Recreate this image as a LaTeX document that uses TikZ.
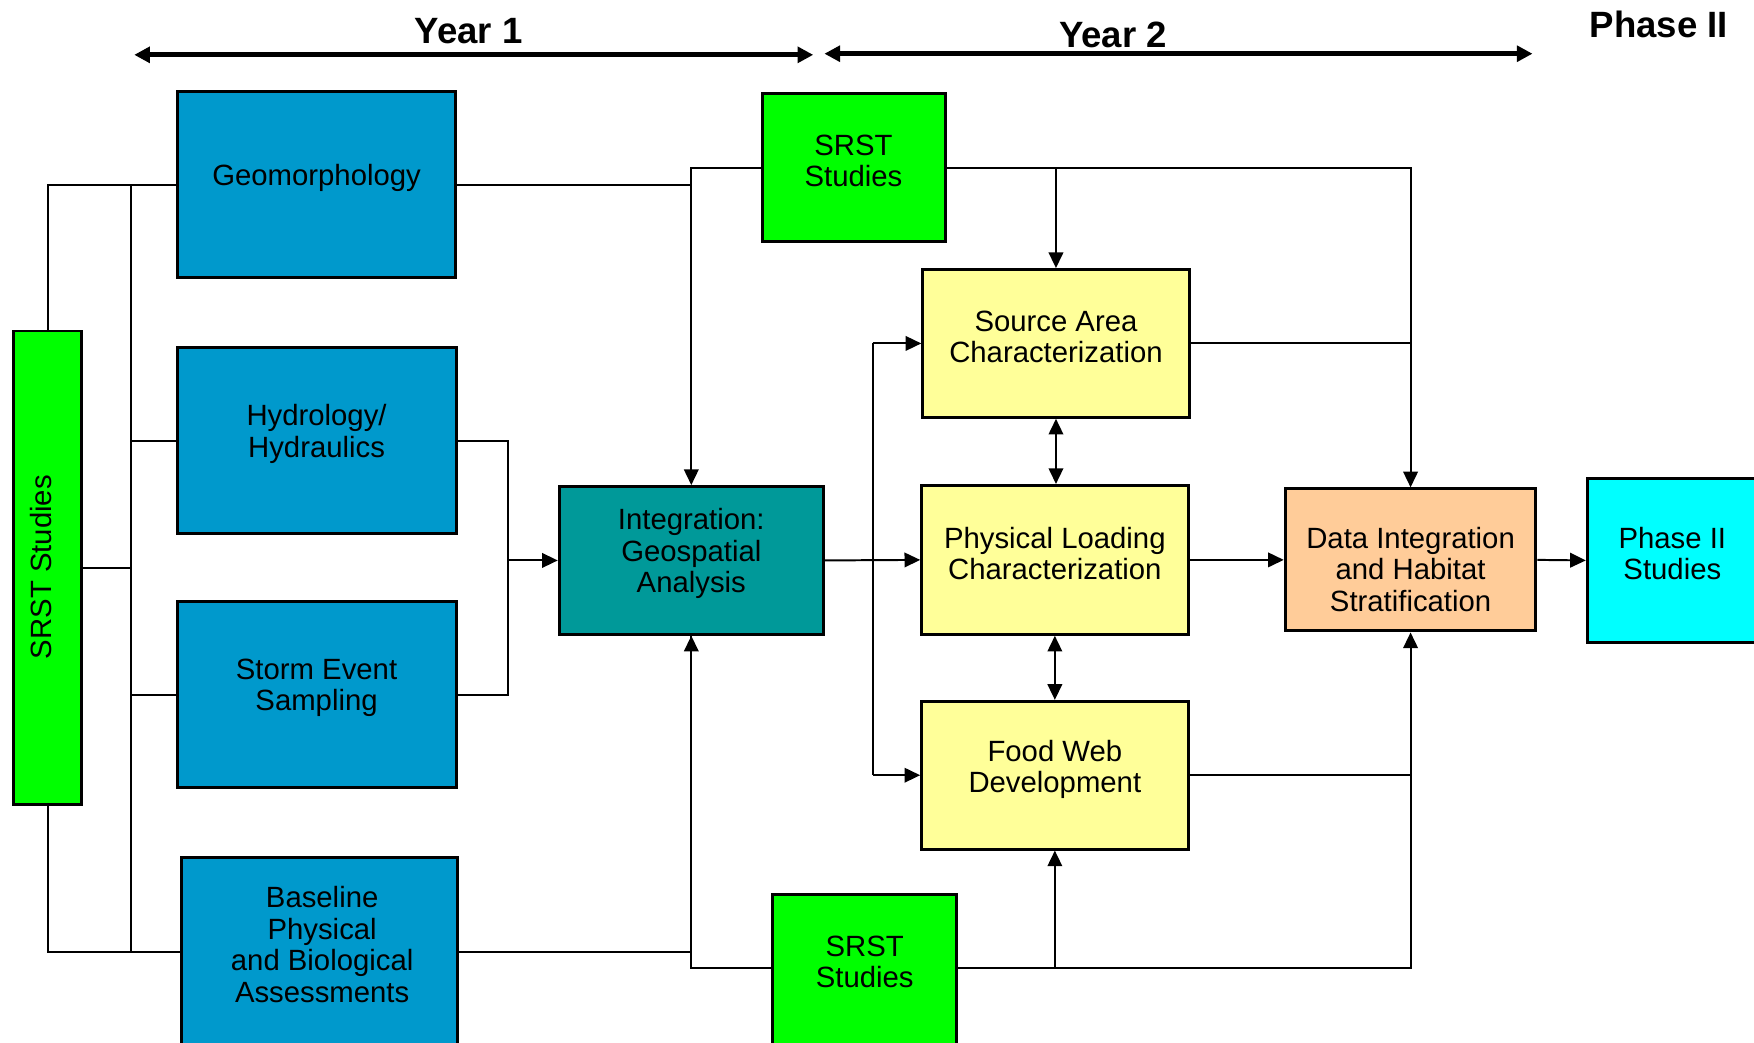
\documentclass[tikz,border=0pt]{standalone}
\usepackage{fontspec}
\setmainfont{Liberation Sans}
\usetikzlibrary{arrows.meta,calc}
\definecolor{cblue}{HTML}{0099CC}
\definecolor{cteal}{HTML}{009999}
\definecolor{cgreen}{HTML}{00FF00}
\definecolor{cyel}{HTML}{FFFF99}
\definecolor{cpeach}{HTML}{FFCC99}
\definecolor{ccyan}{HTML}{00FFFF}
\begin{document}
\begin{tikzpicture}[x=0.01cm,y=-0.01cm,
  box/.style={draw=black, line width=0.75pt, inner sep=0pt},
  lbl/.style={align=center, font=\fontsize{7.45}{8}\selectfont, inner sep=0pt},
  conn/.style={line width=0.5pt},
  arr/.style={conn, -{Triangle[length=0.14cm,width=0.13cm]}},
  darr/.style={conn, {Triangle[length=0.14cm,width=0.13cm]}-{Triangle[length=0.14cm,width=0.13cm]}},
  yarr/.style={line width=1.3pt, {Triangle[length=0.14cm,width=0.14cm]}-{Triangle[length=0.14cm,width=0.14cm]}},
  ylbl/.style={font=\fontsize{9.3}{11}\selectfont\bfseries, inner sep=0pt}]
\useasboundingbox (0,0) rectangle (1568,932);

% headings
\node[ylbl] (y1) at (419,28) {Year 1};
\node[ylbl] (y2) at (995,31) {Year 2};
\node[ylbl] (ph) at (1483,22) {Phase II};
\coordinate (y1a) at (120,49);
\coordinate (y1b) at (727,49);
\coordinate (y2a) at (737,48);
\coordinate (y2b) at (1370,48);
\draw[yarr] (y1a) -- (y1b);
\draw[yarr] (y2a) -- (y2b);

% boxes
\node[box, fill=cblue, minimum width=2.48cm, minimum height=1.66cm] (geo) at (283,165) {};
\node[box, fill=cblue, minimum width=2.49cm, minimum height=1.66cm] (hyd) at (283.5,394) {};
\node[box, fill=cblue, minimum width=2.49cm, minimum height=1.66cm] (storm) at (283.5,621) {};
\node[box, fill=cblue, minimum width=2.47cm, minimum height=1.68cm] (base) at (285.5,851) {};
\node[box, fill=cgreen, minimum width=0.61cm, minimum height=4.23cm] (srstL) at (42.5,507.5) {};
\node[box, fill=cgreen, minimum width=1.63cm, minimum height=1.32cm] (srstT) at (763.5,150) {};
\node[box, fill=cteal, minimum width=2.36cm, minimum height=1.32cm] (integ) at (618,501) {};
\node[box, fill=cgreen, minimum width=1.64cm, minimum height=1.40cm] (srstB) at (773,870) {};
\node[box, fill=cyel, minimum width=2.38cm, minimum height=1.32cm] (src) at (944,307) {};
\node[box, fill=cyel, minimum width=2.38cm, minimum height=1.33cm] (phys) at (943,500.5) {};
\node[box, fill=cyel, minimum width=2.38cm, minimum height=1.32cm] (food) at (943,693) {};
\node[box, fill=cpeach, minimum width=2.24cm, minimum height=1.27cm] (dataI) at (1261,500.5) {};
\node[box, fill=ccyan, minimum width=1.61cm, minimum height=1.46cm] (phase) at (1499.5,501) {};

% texts
\node[lbl] (geoT) at (283,159) {Geomorphology};
\node[lbl] (hydT) at (283,388) {Hydrology/\\Hydraulics};
\node[lbl] (stormT) at (283,615) {Storm Event\\Sampling};
\node[lbl] (baseT) at (288,844.5) {Baseline\\Physical\\and Biological\\Assessments};
\node[lbl, rotate=90] (srstLT) at (37,507) {SRST Studies};
\node[lbl] (srstTT) at (763,144) {SRST\\Studies};
\node[lbl] (integT) at (618,495) {Integration:\\Geospatial\\Analysis};
\node[lbl] (srstBT) at (773,860) {SRST\\Studies};
\node[lbl] (srcT) at (944,301) {Source Area\\Characterization};
\node[lbl] (physT) at (943,495) {Physical Loading\\Characterization};
\node[lbl] (foodT) at (943,688) {Food Web\\Development};
\node[lbl] (dataT) at (1261,509) {Data Integration\\and Habitat\\Stratification};
\node[lbl] (phaseT) at (1495,495) {Phase II\\Studies};

% bus coordinates
\coordinate (busL) at (117,0);
\coordinate (busM) at (454,0);
\coordinate (busR) at (780,0);
\coordinate (sbw) at ([yshift=0.05cm]srstB.west);
\coordinate (sbe) at ([yshift=0.05cm]srstB.east);

% left side
\draw[conn] (srstL.north) |- (geo.west);
\draw[conn] (srstL.south) |- (base.west);
\draw[conn] (busL |- geo.west) -- (busL |- base.west);
\draw[conn] (busL |- hyd.west) -- (hyd.west);
\draw[conn] (busL |- storm.west) -- (storm.west);
\draw[conn] (srstL.east) -- (busL |- srstL.east);

% into integration
\draw[conn] (geo.east) -- (integ.north |- geo.east);
\draw[arr] (srstT.west) -| (integ.north);
\draw[arr] (base.east) -| (integ.south);
\draw[conn] (sbw) -| (integ.south);
\draw[conn] (hyd.east) -- (busM |- hyd.east) -- (busM |- storm.east) -- (storm.east);
\draw[arr] (busM |- integ.west) -- (integ.west);

% out of integration
\draw[arr] (integ.east) -- (phys.west);
\draw[conn] (busR |- src.west) -- (busR |- food.west);
\draw[arr] (busR |- src.west) -- (src.west);
\draw[arr] (busR |- food.west) -- (food.west);

% right side
\draw[arr] (srstT.east) -| (dataI.north);
\draw[arr] (src.north |- srstT.east) -- (src.north);
\draw[conn] (src.east) -- (dataI.north |- src.east);
\draw[darr] (src.south) -- (src.south |- phys.north);
\draw[darr] (phys.south) -- (phys.south |- food.north);
\draw[arr] (phys.east) -- (dataI.west);
\draw[arr] (dataI.east) -- (phase.west);
\draw[conn] (food.east) -- (dataI.south |- food.east);
\draw[arr] (sbe) -| (dataI.south);
\draw[arr] (food.south |- sbe) -- (food.south);
\end{tikzpicture}
\end{document}
